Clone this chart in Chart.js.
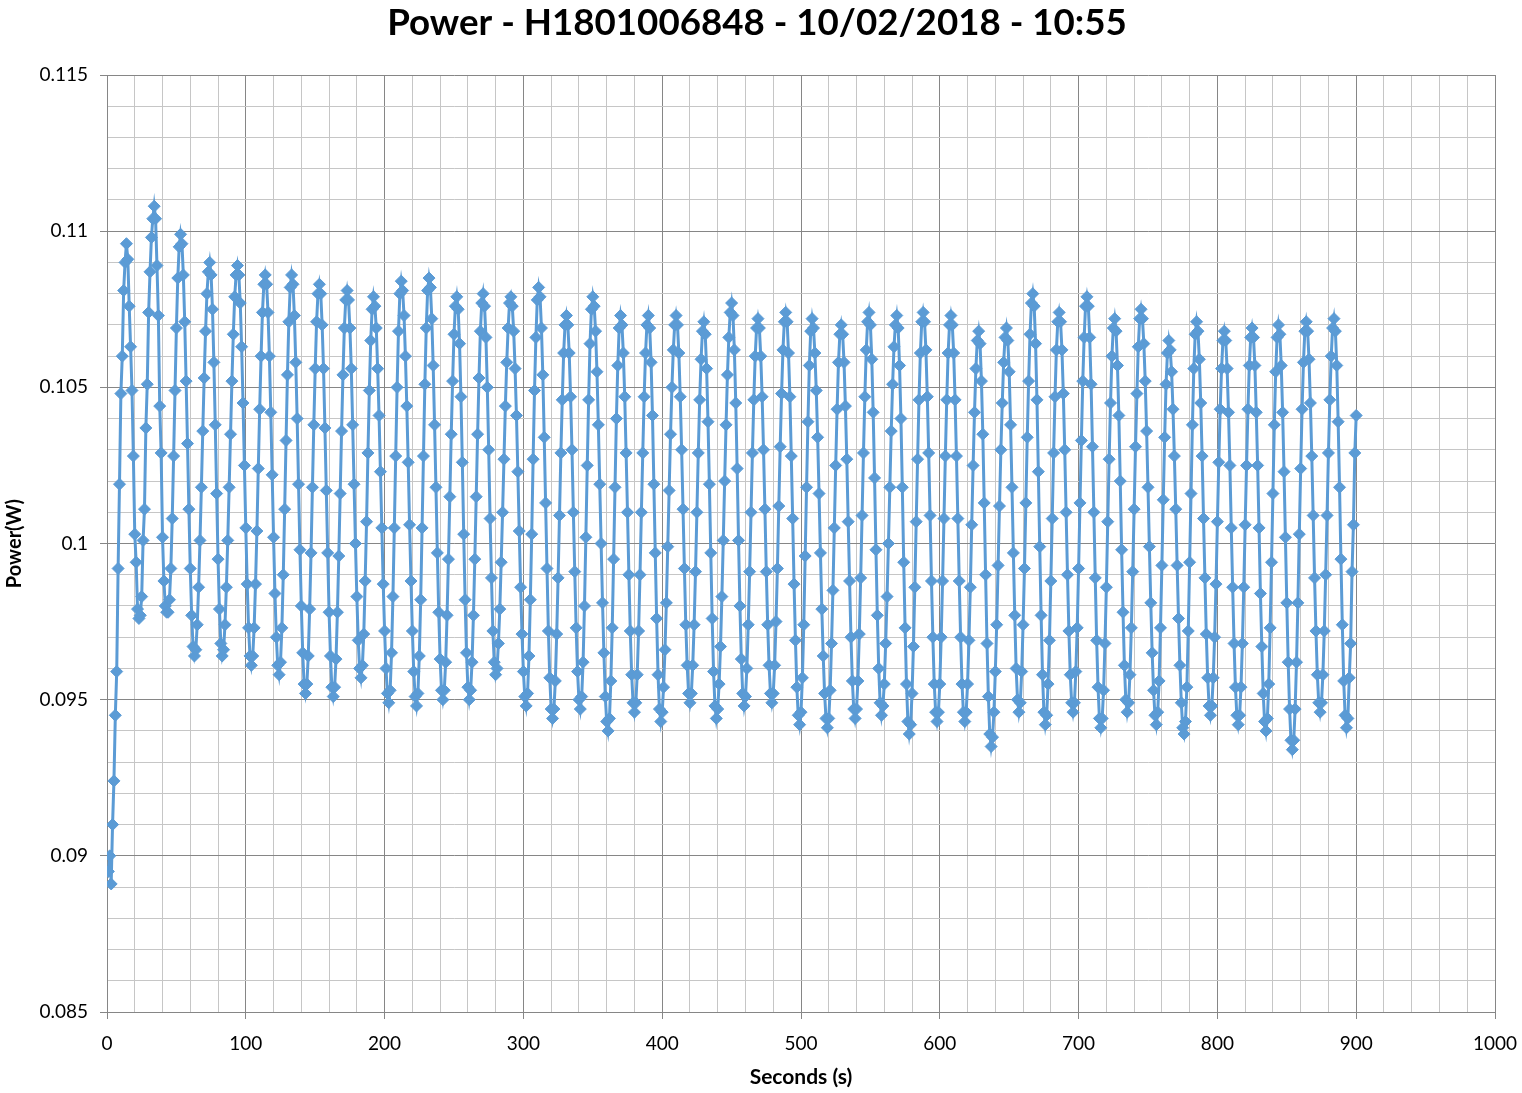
<!DOCTYPE html>
<html>
<head>
<meta charset="utf-8">
<title>Power - H1801006848</title>
<script src="https://cdn.jsdelivr.net/npm/chart.js@4.4.1/dist/chart.umd.min.js"></script>
<style>
  html, body { margin: 0; padding: 0; background: #ffffff; }
  canvas { display: block; }
</style>
</head>
<body>
<canvas id="myChart" width="1522" height="1093"></canvas>
<script>
// Power samples (W), one per second starting at t = 1 s
const firstSecond = 1;
const sampleInterval = 1;
const powerW = [
  0.0895,0.0900,0.0891,0.0910,0.0924,0.0945,0.0959,0.0992,0.1019,0.1048,
  0.1060,0.1081,0.1090,0.1096,0.1091,0.1076,0.1063,0.1049,0.1028,0.1003,
  0.0994,0.0979,0.0976,0.0977,0.0983,0.1001,0.1011,0.1037,0.1051,0.1074,
  0.1087,0.1098,0.1104,0.1108,0.1104,0.1089,0.1073,0.1044,0.1029,0.1002,
  0.0988,0.0980,0.0978,0.0978,
  0.0982,0.0992,0.1008,0.1028,0.1049,0.1069,0.1085,0.1095,0.1099,
  0.1096,0.1086,0.1071,0.1052,0.1032,0.1011,0.0992,0.0977,0.0967,0.0964,
  0.0966,0.0974,0.0986,0.1001,0.1018,0.1036,0.1053,0.1068,0.1080,0.1087,0.1090,
  0.1086,0.1075,0.1058,0.1038,0.1016,0.0995,0.0979,0.0968,0.0964,
  0.0966,0.0974,0.0986,0.1001,0.1018,0.1035,0.1052,0.1067,0.1079,0.1086,0.1089,
  0.1086,0.1077,0.1063,0.1045,0.1025,0.1005,0.0987,0.0973,0.0964,0.0961,
  0.0964,0.0973,0.0987,0.1004,0.1024,0.1043,0.1060,0.1074,0.1083,0.1086,
  0.1083,0.1074,0.1060,0.1042,0.1022,0.1002,0.0984,0.0970,0.0961,0.0958,
  0.0962,0.0973,0.0990,0.1011,0.1033,0.1054,0.1071,0.1082,0.1086,
  0.1083,0.1073,0.1058,0.1040,0.1019,0.0998,0.0980,0.0965,0.0955,0.0952,
  0.0955,0.0964,0.0979,0.0997,0.1018,0.1038,0.1056,0.1071,0.1080,0.1083,
  0.1080,0.1070,0.1056,0.1037,0.1017,0.0997,0.0978,0.0964,0.0954,0.0951,
  0.0954,0.0963,0.0978,0.0996,0.1016,0.1036,0.1054,0.1069,0.1078,0.1081,
  0.1078,0.1069,0.1056,0.1038,0.1019,0.1000,0.0983,0.0969,0.0960,0.0957,
  0.0961,0.0971,0.0988,0.1007,0.1029,0.1049,0.1065,0.1075,0.1079,
  0.1076,0.1069,0.1056,0.1041,0.1023,0.1005,0.0987,0.0972,0.0960,0.0952,0.0949,
  0.0953,0.0965,0.0983,0.1005,0.1028,0.1050,0.1068,0.1080,0.1084,
  0.1081,0.1073,0.1060,0.1044,0.1026,0.1006,0.0988,0.0972,0.0959,0.0951,0.0948,
  0.0952,0.0964,0.0982,0.1005,0.1028,0.1051,0.1069,0.1081,0.1085,
  0.1082,0.1072,0.1057,0.1038,0.1018,0.0997,0.0978,0.0963,0.0953,0.0950,
  0.0953,0.0962,0.0977,0.0995,0.1015,0.1035,0.1052,0.1067,0.1076,0.1079,
  0.1075,0.1064,0.1047,0.1026,0.1003,0.0982,0.0965,0.0954,0.0950,
  0.0953,0.0962,0.0977,0.0995,0.1015,0.1035,0.1053,0.1068,0.1077,0.1080,
  0.1076,0.1066,0.1050,0.1030,0.1008,0.0989,0.0972,0.0962,0.0958,
  0.0960,0.0968,0.0979,0.0994,0.1010,0.1027,0.1044,0.1058,0.1069,0.1077,0.1079,
  0.1076,0.1068,0.1056,0.1041,0.1023,0.1004,0.0986,0.0971,0.0959,0.0951,0.0948,
  0.0952,0.0964,0.0982,0.1003,0.1027,0.1049,0.1066,0.1078,0.1082,
  0.1079,0.1069,0.1054,0.1034,0.1013,0.0992,0.0972,0.0957,0.0947,0.0944,
  0.0947,0.0956,0.0971,0.0989,0.1009,0.1029,0.1046,0.1061,0.1070,0.1073,
  0.1070,0.1061,0.1047,0.1030,0.1010,0.0991,0.0973,0.0959,0.0950,0.0947,
  0.0951,0.0962,0.0980,0.1002,0.1025,0.1046,0.1064,0.1075,0.1079,
  0.1076,0.1068,0.1055,0.1038,0.1019,0.1000,0.0981,0.0965,0.0951,0.0943,0.0940,
  0.0944,0.0956,0.0973,0.0995,0.1018,0.1040,0.1057,0.1069,0.1073,
  0.1070,0.1061,0.1047,0.1029,0.1010,0.0990,0.0972,0.0958,0.0949,0.0946,
  0.0949,0.0958,0.0972,0.0990,0.1010,0.1029,0.1047,0.1061,0.1070,0.1073,
  0.1069,0.1058,0.1041,0.1019,0.0997,0.0976,0.0958,0.0947,0.0943,
  0.0946,0.0954,0.0966,0.0981,0.0999,0.1017,0.1035,0.1050,0.1062,0.1070,0.1073,
  0.1070,0.1061,0.1047,0.1030,0.1011,0.0992,0.0974,0.0961,0.0952,0.0949,
  0.0952,0.0961,0.0974,0.0991,0.1010,0.1029,0.1046,0.1059,0.1068,0.1071,
  0.1067,0.1056,0.1039,0.1019,0.0997,0.0976,0.0959,0.0948,0.0944,
  0.0947,0.0955,0.0967,0.0983,0.1001,0.1020,0.1038,0.1054,0.1066,0.1074,0.1077,
  0.1073,0.1062,0.1045,0.1024,0.1001,0.0980,0.0963,0.0952,0.0948,
  0.0951,0.0960,0.0974,0.0991,0.1010,0.1029,0.1046,0.1060,0.1069,0.1072,
  0.1069,0.1060,0.1047,0.1030,0.1011,0.0991,0.0974,0.0961,0.0952,0.0949,
  0.0952,0.0961,0.0975,0.0992,0.1012,0.1031,0.1048,0.1062,0.1071,0.1074,
  0.1071,0.1061,0.1047,0.1028,0.1008,0.0987,0.0969,0.0954,0.0945,0.0942,
  0.0946,0.0957,0.0974,0.0996,0.1018,0.1039,0.1057,0.1068,0.1072,
  0.1069,0.1061,0.1049,0.1034,0.1016,0.0997,0.0979,0.0964,0.0952,0.0944,0.0941,
  0.0944,0.0953,0.0968,0.0985,0.1005,0.1025,0.1043,0.1058,0.1067,0.1070,
  0.1067,0.1058,0.1044,0.1027,0.1007,0.0988,0.0970,0.0956,0.0947,0.0944,
  0.0947,0.0956,0.0971,0.0989,0.1009,0.1029,0.1047,0.1062,0.1071,0.1074,
  0.1070,0.1059,0.1042,0.1021,0.0998,0.0977,0.0960,0.0949,0.0945,
  0.0948,0.0955,0.0968,0.0983,0.1000,0.1018,0.1036,0.1051,0.1063,0.1070,0.1073,
  0.1069,0.1057,0.1040,0.1018,0.0994,0.0973,0.0955,0.0943,0.0939,
  0.0942,0.0952,0.0967,0.0986,0.1007,0.1027,0.1046,0.1061,0.1071,0.1074,
  0.1071,0.1062,0.1047,0.1029,0.1009,0.0988,0.0970,0.0955,0.0946,0.0943,
  0.0946,0.0955,0.0970,0.0988,0.1008,0.1028,0.1046,0.1061,0.1070,0.1073,
  0.1070,0.1061,0.1046,0.1028,0.1008,0.0988,0.0970,0.0955,0.0946,0.0943,
  0.0946,0.0955,0.0969,0.0986,0.1006,0.1025,0.1042,0.1056,0.1065,0.1068,
  0.1064,0.1052,0.1035,0.1013,0.0990,0.0968,0.0951,0.0939,0.0935,
  0.0938,0.0946,0.0959,0.0974,0.0993,0.1012,0.1030,0.1045,0.1058,0.1066,0.1069,
  0.1065,0.1055,0.1038,0.1018,0.0997,0.0977,0.0960,0.0950,0.0946,
  0.0949,0.0959,0.0974,0.0992,0.1013,0.1034,0.1052,0.1067,0.1077,0.1080,
  0.1076,0.1064,0.1046,0.1023,0.0999,0.0977,0.0958,0.0946,0.0942,
  0.0945,0.0955,0.0969,0.0988,0.1008,0.1029,0.1047,0.1062,0.1071,0.1074,
  0.1071,0.1062,0.1048,0.1030,0.1010,0.0990,0.0972,0.0958,0.0949,0.0946,
  0.0949,0.0959,0.0973,0.0992,0.1013,0.1033,0.1052,0.1066,0.1076,0.1079,
  0.1076,0.1066,0.1051,0.1031,0.1010,0.0989,0.0969,0.0954,0.0944,0.0941,
  0.0944,0.0953,0.0968,0.0986,0.1007,0.1027,0.1045,0.1060,0.1069,0.1072,
  0.1068,0.1057,0.1041,0.1020,0.0998,0.0978,0.0961,0.0950,0.0946,
  0.0949,0.0958,0.0973,0.0991,0.1011,0.1031,0.1048,0.1063,0.1072,0.1075,
  0.1072,0.1064,0.1052,0.1036,0.1018,0.0999,0.0981,0.0965,0.0953,0.0945,0.0942,
  0.0946,0.0956,0.0973,0.0993,0.1014,0.1034,0.1051,0.1061,0.1065,
  0.1062,0.1055,0.1043,0.1028,0.1011,0.0993,0.0976,0.0961,0.0949,0.0941,0.0939,
  0.0943,0.0954,0.0972,0.0994,0.1016,0.1038,0.1056,0.1067,0.1071,
  0.1068,0.1059,0.1045,0.1028,0.1008,0.0989,0.0971,0.0957,0.0948,0.0945,
  0.0948,0.0957,0.0970,0.0987,0.1007,0.1026,0.1043,0.1056,0.1065,0.1068,
  0.1065,0.1056,0.1042,0.1025,0.1005,0.0986,0.0968,0.0954,0.0945,0.0942,
  0.0945,0.0954,0.0968,0.0986,0.1006,0.1025,0.1043,0.1057,0.1066,0.1069,
  0.1066,0.1057,0.1042,0.1025,0.1005,0.0984,0.0967,0.0952,0.0943,0.0940,
  0.0944,0.0955,0.0973,0.0994,0.1016,0.1038,0.1055,0.1066,0.1070,
  0.1067,0.1057,0.1042,0.1023,0.1002,0.0981,0.0962,0.0947,0.0937,0.0934,
  0.0937,0.0947,0.0962,0.0981,0.1003,0.1024,0.1043,0.1058,0.1068,0.1071,
  0.1068,0.1059,0.1045,0.1028,0.1009,0.0989,0.0972,0.0958,0.0949,0.0946,
  0.0949,0.0958,0.0972,0.0990,0.1009,0.1029,0.1046,0.1060,0.1069,0.1072,
  0.1068,0.1057,0.1039,0.1018,0.0995,0.0974,0.0956,0.0945,0.0941,
  0.0944,0.0957,0.0968,0.0991,0.1006,0.1029,0.1041
];

// axis ranges and tick steps
const xRange = [0, 1000];
const xMajorStep = 100;
const xMinorStep = 20;
const yRange = [0.085, 0.115];
const yMajorStep = 0.005;
const yMinorStep = 0.001;

const titleText = "Power - H1801006848 - 10/02/2018 - 10:55";
const xTitle = "Seconds (s)";
const yTitle = "Power(W)";

const lineColor = "#5B9BD5";
const majorGrid = "#868686";
const minorGrid = "#c6c6c6";
const fontFamily = "Lato, 'Open Sans', sans-serif";

const points = powerW.map((v, i) => ({ x: firstSecond + i * sampleInterval, y: v }));

function isMajorX(v) {
  return Math.round(v) % xMajorStep === 0;
}
function isMajorY(v) {
  return Math.round(v * 1000) % Math.round(yMajorStep * 1000) === 0;
}

const ctx = document.getElementById("myChart").getContext("2d");

new Chart(ctx, {
  type: "scatter",
  data: {
    datasets: [
      {
        label: "Power",
        data: points,
        showLine: true,
        borderColor: lineColor,
        backgroundColor: lineColor,
        borderWidth: 3,
        pointStyle: "rectRot",
        pointRadius: 6,
        pointBorderWidth: 1,
        pointBackgroundColor: lineColor,
        pointBorderColor: lineColor,
        tension: 0,
      },
    ],
  },
  options: {
    responsive: false,
    animation: false,
    layout: { autoPadding: false, padding: { left: 0, right: 8, top: 0, bottom: 0 } },
    plugins: {
      legend: { display: false },
      tooltip: { enabled: false },
      title: {
        display: true,
        text: titleText,
        color: "#000",
        font: { family: fontFamily, size: 36.7, weight: "bold" },
        padding: { top: 1, bottom: 30 },
      },
    },
    scales: {
      x: {
        type: "linear",
        min: xRange[0],
        max: xRange[1],
        afterFit: (scale) => {
          scale.height = 81;
          // keep the plot right edge at x=1000 -> 1495 px
          scale.paddingLeft = 0;
          scale.paddingRight = 27;
        },
        ticks: {
          stepSize: xMinorStep,
          autoSkip: false,
          maxRotation: 0,
          padding: 13,
          color: "#000",
          font: { family: fontFamily, size: 19 },
          callback: (v) => (isMajorX(v) ? String(v) : ""),
        },
        grid: {
          color: (c) => (isMajorX(c.tick.value) ? majorGrid : minorGrid),
          tickColor: (c) => (isMajorX(c.tick.value) ? majorGrid : "rgba(0,0,0,0)"),
          tickLength: 7,
          lineWidth: 1,
        },
        border: { color: majorGrid },
        title: {
          display: true,
          text: xTitle,
          color: "#000",
          font: { family: fontFamily, size: 21, weight: "bold" },
          padding: { top: 4, bottom: 3 },
        },
      },
      y: {
        type: "linear",
        min: yRange[0],
        max: yRange[1],
        afterFit: (scale) => { scale.width = 107; },
        ticks: {
          stepSize: yMinorStep,
          autoSkip: false,
          padding: 12,
          color: "#000",
          font: { family: fontFamily, size: 19 },
          callback: (v) => (isMajorY(v) ? String(Math.round(v * 1000) / 1000) : ""),
        },
        grid: {
          color: (c) => (isMajorY(c.tick.value) ? majorGrid : minorGrid),
          tickColor: (c) => (isMajorY(c.tick.value) ? majorGrid : "rgba(0,0,0,0)"),
          tickLength: 7,
          lineWidth: 1,
        },
        border: { color: majorGrid },
        title: {
          display: true,
          text: yTitle,
          color: "#000",
          font: { family: fontFamily, size: 20, weight: "bold" },
          padding: { top: 3, bottom: 4 },
        },
      },
    },
  },
});
</script>
</body>
</html>
